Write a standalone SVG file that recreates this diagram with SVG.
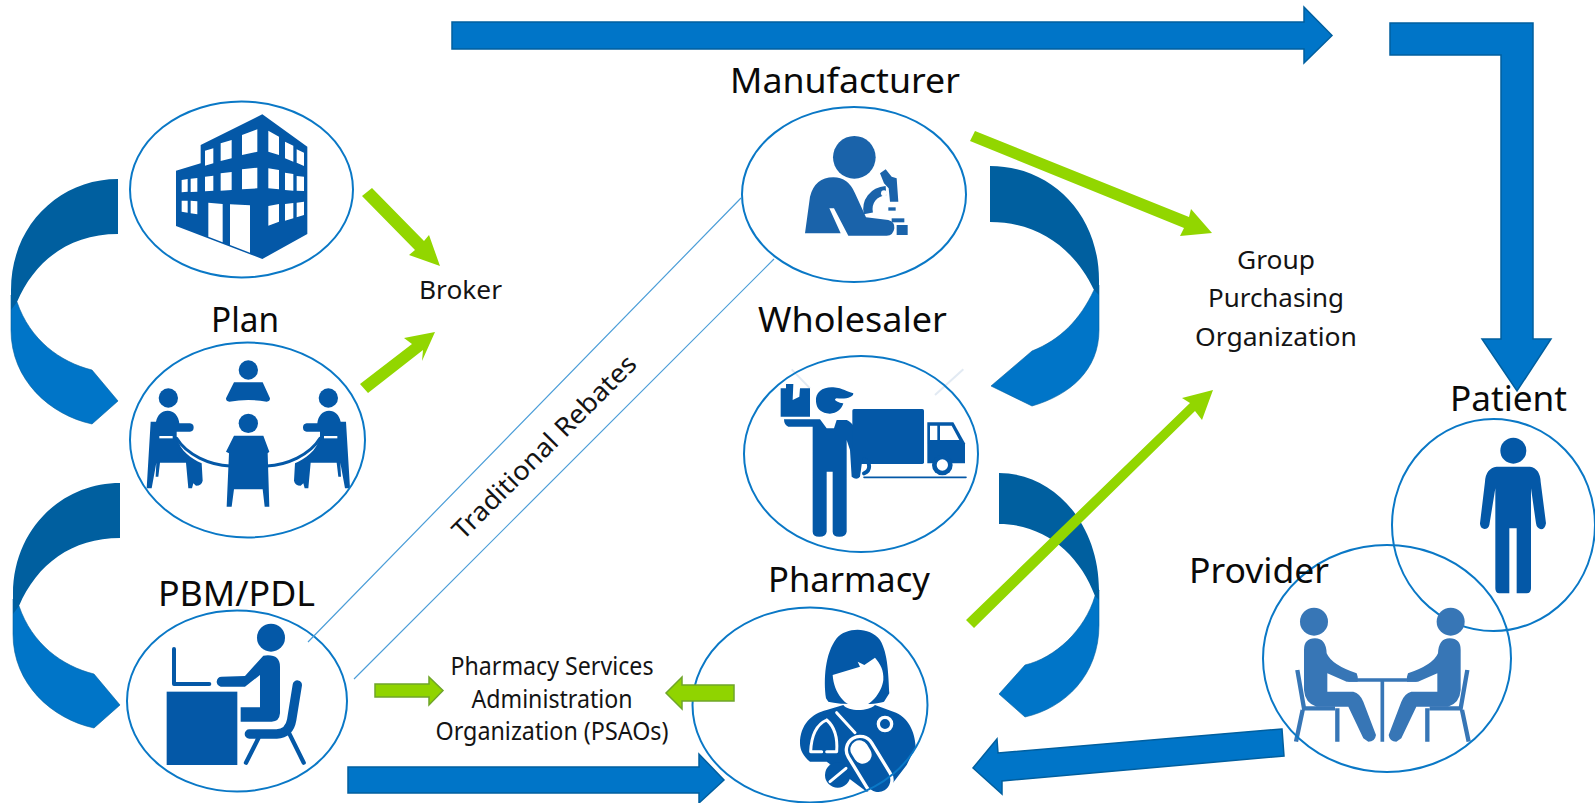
<svg xmlns="http://www.w3.org/2000/svg" xmlns:xlink="http://www.w3.org/1999/xlink" width="1595" height="803" viewBox="0 0 1595 803">
<defs>
<style>
.ring{fill:none;stroke:#0a78c6;stroke-width:2}
.i{fill:#0458a7}
.is{fill:none;stroke:#0458a7;stroke-linecap:round;stroke-linejoin:round}
.w{fill:#fff}
.ws{fill:none;stroke:#fff;stroke-linecap:round;stroke-linejoin:round}
.big{font-family:"Noto Sans","Liberation Sans",sans-serif;font-size:35px;fill:#0a0a0a}
.small{font-family:"Noto Sans","Liberation Sans",sans-serif;font-size:25px;fill:#141414;text-anchor:middle}
.blue{fill:#0075c8;stroke:#005f9f;stroke-width:1.5}
.dark{fill:#005f9f}
.light{fill:#0075c8;stroke:#005f9f;stroke-width:.6}
.green{fill:#92d600}
.greenb{fill:#90d400;stroke:#6fa52a;stroke-width:1.5}
.rebate{fill:none;stroke:#4c9ed8;stroke-width:1.2}
</style>
<g id="seated"><circle cx="115" cy="174" r="29" class="i"/><path class="i" d="M62,245L78,245C82,225 95,212 113,212C132,212 146,228 148,250L180,250Q191,252 191,262Q191,275 180,275L140,275L140,290C150,335 185,355 215,370L218,422Q215,437 198,437L190,430L186,445L175,445L168,368L90,368L85,410L77,410L79,368L65,445L50,445Z"/><path class="w" d="M88,288L128,288L128,295L88,295Z"/></g>
<g id="sitter"><circle cx="282" cy="845" r="42"/><path d="M252,930Q252,895 285,895Q318,895 320,940Q335,975 410,1000Q415,1010 413,1025L380,1025L322,1000L322,1055L400,1055Q420,1060 430,1085L468,1185Q465,1205 445,1205L430,1195L385,1100L290,1100Q255,1090 252,1050Z"/><path d="M232,990L252,1105L345,1105M352,1105L352,1205M248,1110L228,1205" fill="none" stroke="#3776b6" stroke-width="13"/></g>
</defs>
<rect width="1595" height="803" fill="#fff"/>

<g id="plan-building">
<g transform="translate(0,80) scale(.33333)">
<path class="i" d="M787,103L922,200L922,462L787,537L528,438L528,272L602,250L602,195Z"/>
<path class="w" d="M615,212L640,205L640,250L615,257ZM662,190L695,180L695,235L662,243ZM726,165L772,148L772,215L726,225ZM805,152L837,170L837,225L805,215ZM855,185L880,197L880,245L855,235ZM890,208L912,218L912,258L890,248ZM545,300L563,297L563,335L545,337ZM572,296L592,294L592,335L572,336ZM615,290L640,287L640,332L615,334ZM662,280L695,276L695,330L662,332ZM726,268L772,263L772,325L726,328ZM805,265L837,270L837,328L805,325ZM855,278L880,282L880,332L855,330ZM890,288L912,290L912,333L890,332ZM545,362L563,362L563,398L545,395ZM572,362L592,364L592,403L572,400ZM625,368L668,372L668,487L625,470ZM690,373L750,376L750,518L690,495ZM805,378L837,372L837,425L805,437ZM855,372L880,369L880,415L855,422ZM890,368L912,365L912,405L890,412Z"/>
</g>
<ellipse class="ring" cx="241.500" cy="189.500" rx="111.500" ry="88"/>
</g>

<g id="plan">
<g transform="translate(130,340) scale(.33333)">
<circle class="i" cx="355" cy="90" r="29"/>
<path class="i" d="M312,127L398,127L420,175Q420,185 410,185Q355,175 298,185Q288,185 288,175Z"/>
<use href="#seated"/>
<use href="#seated" transform="matrix(-1 0 0 1 710 0)"/>
<path class="is" stroke-width="9" d="M140,295C170,345 240,375 300,378M410,378C470,375 540,345 570,295"/>
<circle class="i" cx="355" cy="250" r="29"/>
<path class="i" d="M312,287L400,287L418,335L413,340L418,500L404,500L398,448L312,448L305,500L290,500L297,340L288,335Z"/>
</g>
<ellipse class="ring" cx="247.500" cy="440" rx="117.500" ry="97.500"/>
<text class="big" x="211" y="332" textLength="68" lengthAdjust="spacingAndGlyphs">Plan</text>
</g>

<g id="pbm-pdl">
<g transform="translate(0,460) scale(.33333)">
<circle class="i" cx="813" cy="533" r="42"/>
<path class="is" stroke-width="12" d="M522,567L522,672L628,672"/>
<rect class="i" x="500" y="695" width="212" height="220"/>
<path class="i" d="M790,587Q840,580 840,620L840,760Q838,785 815,785L722,785L722,742L780,742L780,645L735,680L662,680Q650,675 650,665Q652,650 665,650L735,648Z"/>
<path class="is" stroke-width="28" d="M892,675L875,780Q868,820 830,822L748,822"/>
<path class="is" stroke-width="13" d="M775,835L738,908M865,815L911,908"/>
</g>
<ellipse class="ring" cx="237" cy="701" rx="110" ry="90.500"/>
<text class="big" x="158" y="606" textLength="157" lengthAdjust="spacingAndGlyphs">PBM/PDL</text>
</g>

<g id="manufacturer">
<g transform="translate(700,60) scale(.33333)" fill="#1a63aa">
<circle cx="463" cy="292" r="64"/>
<path d="M315,520L330,410Q345,352 400,352Q445,352 465,400L498,472L565,480Q585,485 583,505Q580,527 560,527L445,527L402,445L388,445L422,520Z"/>
<path d="M540,340L557,328L575,350L590,355L595,425L570,425L566,385L552,370Z"/>
<path d="M558,392C520,395 498,425 505,460" fill="none" stroke="#1a63aa" stroke-width="28"/>
<circle cx="552" cy="400" r="9" fill="#fff"/>
<rect x="565" y="442" width="22" height="10"/><rect x="575" y="475" width="38" height="12"/><rect x="590" y="495" width="33" height="30"/>
</g>
<ellipse class="ring" cx="854" cy="194.500" rx="112" ry="87.500"/>
<text class="big" x="730" y="93" textLength="230" lengthAdjust="spacingAndGlyphs">Manufacturer</text>
</g>

<g id="wholesaler">
<g transform="translate(680,360) scale(.33333)">
<path d="M335,28L390,85M765,105L850,28" stroke="#e2eaf3" stroke-width="6" fill="none"/>
<path class="i" d="M302,85L318,85L318,72L340,72L338,120L358,110L360,85L390,85L390,170L302,170Z"/>
<path class="i" d="M408,125C405,95 430,80 460,82C490,85 500,95 520,100C520,112 500,118 470,115C455,120 480,130 490,130C485,150 465,165 440,160C420,155 410,145 408,125Z"/>
<path class="i" d="M312,178L420,178L440,205L462,205L470,180L500,180C525,190 545,230 547,300L540,350Q530,362 515,350L510,270L500,240L500,515Q498,530 478,530Q458,530 458,515L458,335L440,335L440,515Q438,530 418,530Q398,530 398,515L398,200L325,200Q312,195 312,178Z"/>
<rect class="i" x="517" y="147" width="215" height="165" rx="5"/>
<path class="i" d="M742,187L820,187L855,250L855,310L742,310Z"/>
<path class="w" d="M750,197L772,197L772,240L750,240ZM780,197L815,197L838,240L780,240Z"/>
<circle class="i" cx="787" cy="315" r="31"/><circle class="w" cx="787" cy="315" r="17"/>
<path class="is" stroke-width="12" d="M552,298A22,22 0 0 1 552,340"/>
<path class="is" stroke-width="5" d="M552,352L858,352"/>
</g>
<ellipse class="ring" cx="861" cy="454" rx="117" ry="98"/>
<text class="big" x="758" y="332" textLength="189" lengthAdjust="spacingAndGlyphs">Wholesaler</text>
</g>

<g id="pharmacy">
<g transform="translate(680,360) scale(.33333)">
<path class="i" d="M438,1015C430,960 435,880 470,835C500,800 570,800 600,840C625,880 625,950 628,1000L612,1025C590,1035 480,1035 445,1025Z"/>
<path class="i" d="M360,1150C360,1095 395,1060 440,1050L490,1035C505,1055 565,1055 585,1035L640,1055C685,1070 705,1115 707,1160L680,1215L630,1280L560,1295L440,1205L390,1205C370,1190 360,1170 360,1150Z"/>
<path class="w" d="M458,945L540,920L533,905L553,915L585,893C600,910 612,930 610,960C605,1000 570,1040 535,1042C495,1040 462,1000 458,945Z"/>
<path class="ws" stroke-width="9" d="M440,1080Q395,1100 392,1175L425,1175M440,1080Q475,1110 470,1175L440,1175M470,1058L525,1118"/>
<circle cx="615" cy="1092" r="20" fill="#0458a7" stroke="#fff" stroke-width="10"/>
<path class="ws" stroke-width="92" d="M540,1170L595,1260"/>
<path class="is" stroke-width="72" d="M540,1170L595,1260"/>
<path class="ws" stroke-width="54" d="M538,1168L548,1184"/>
<ellipse class="i" cx="473" cy="1245" rx="38" ry="38"/>
<path class="ws" stroke-width="9" d="M450,1265L498,1225"/>
</g>
<ellipse class="ring" cx="810" cy="705" rx="117.500" ry="97.500"/>
<text class="big" x="768" y="592" textLength="162" lengthAdjust="spacingAndGlyphs">Pharmacy</text>
</g>

<g id="patient">
<g transform="translate(1220,340) scale(.33333)">
<circle class="i" cx="880" cy="332" r="39"/>
<path class="i" d="M830,380L930,380Q960,385 962,425L978,550Q975,568 963,568Q950,565 948,550L933,445L933,745Q933,760 920,760L890,760L890,565L868,565L868,760L838,760Q826,760 826,745L826,445L808,555Q805,567 793,567Q780,565 780,550L795,425Q797,385 830,380Z"/>
</g>
<ellipse class="ring" cx="1493.500" cy="525" rx="101.500" ry="106"/>
<text class="big" x="1450" y="411" textLength="117" lengthAdjust="spacingAndGlyphs">Patient</text>
</g>

<g id="provider">
<g transform="translate(1220,340) scale(.33333)" fill="#3776b6">
<use href="#sitter"/>
<use href="#sitter" transform="matrix(-1 0 0 1 974 0)"/>
<path d="M385,1020L590,1020M487,1020L487,1205" fill="none" stroke="#3776b6" stroke-width="11"/>
</g>
<ellipse class="ring" cx="1387" cy="658.500" rx="124" ry="113.500"/>
<text class="big" x="1189" y="583" textLength="140" lengthAdjust="spacingAndGlyphs">Provider</text>
</g>

<g id="broker"><text class="small" x="460.500" y="299" textLength="83" lengthAdjust="spacingAndGlyphs">Broker</text></g>

<g id="gpo">
<text class="small" x="1276" y="269" textLength="78" lengthAdjust="spacingAndGlyphs">Group</text>
<text class="small" x="1276" y="307" textLength="136" lengthAdjust="spacingAndGlyphs">Purchasing</text>
<text class="small" x="1276" y="346" textLength="162" lengthAdjust="spacingAndGlyphs">Organization</text>
</g>

<g id="psao">
<text class="small" x="552" y="675" textLength="203" lengthAdjust="spacingAndGlyphs">Pharmacy Services</text>
<text class="small" x="552" y="708" textLength="161" lengthAdjust="spacingAndGlyphs">Administration</text>
<text class="small" x="552" y="740" textLength="233" lengthAdjust="spacingAndGlyphs">Organization (PSAOs)</text>
</g>

<g id="connectors">
<path class="blue" d="M452,22L1304,22L1304,7L1332,35.500L1304,63L1304,49L452,49Z"/>
<path class="blue" d="M1390,23L1533,23L1533,339L1551,339L1517,391L1482,339L1501,339L1501,55L1390,55Z"/>
<path class="blue" d="M348,767L699,767L699,754L724,780L699,803L699,793L348,793Z"/>
<path class="blue" d="M1282,729L998,753L997,739L973,768L1002,794L1002,781L1284,756Z"/>

<g id="curve-left-1"><path class="light" d="M11,295L11,330C11,380 50,415 92,424L118,401L92,370C60,362 30,340 17,302Z"/><path class="dark" d="M118,179C60,179 11,225 11,290L11,310L17,302C35,260 70,234 118,234Z"/></g>
<use href="#curve-left-1" transform="translate(2,304)"/>
<g id="curve-right-1"><path class="light" d="M1099,285L1099,330C1099,370 1070,395 1032,406L991,386L1032,351C1060,340 1080,320 1094,290Z"/><path class="dark" d="M990,166C1052,166 1099,215 1099,280L1099,295L1094,290C1075,250 1040,222 990,222Z"/></g>
<g id="curve-right-2"><path class="light" d="M1099,590L1099,625C1099,675 1065,708 1025,717L999,694L1025,665C1055,658 1085,630 1095,596Z"/><path class="dark" d="M999,473C1055,473 1099,525 1099,590L1099,600L1095,596C1080,555 1045,524 999,524Z"/></g>

<path class="rebate" d="M308,642L741,198M354,679L774,259"/>
<text transform="translate(463,541) rotate(-45)" font-family="Noto Sans, Liberation Sans, sans-serif" font-size="26" fill="#141414" textLength="248" lengthAdjust="spacingAndGlyphs">Traditional Rebates</text>

<path class="green" d="M362,196L372,188L424,241L429,235L440,266L409,255L415,250Z"/>
<path class="green" d="M360,384L368,393L423,350L422,361L435,332L404,338L412,344Z"/>
<path class="green" d="M975,131L970,141L1184,228L1180,236L1212,233L1191,209L1189,217Z"/>
<path class="green" d="M966,620L974,628L1195,411L1202,420L1213,390L1182,398L1190,403Z"/>
<path class="greenb" d="M375,684L429,684L429,677L443,690.500L429,705L429,697L375,697Z"/>
<path class="greenb" d="M734,685L682,685L682,677L666,693L682,709L682,701L734,701Z"/>
</g>
</svg>
